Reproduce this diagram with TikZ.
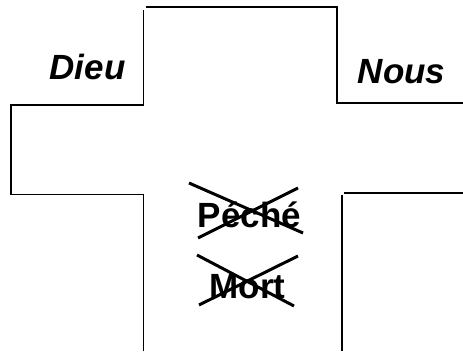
\documentclass[tikz,border=0pt]{standalone}
\usepackage{fontspec}
\setmainfont{Liberation Sans}
\begin{document}
\begin{tikzpicture}[x=1pt, y=-1pt, line width=1.3pt, every node/.style={inner sep=0pt, anchor=base, font=\fontsize{35}{42}\selectfont\bfseries}, strike/.style={line width=3pt}]
	\useasboundingbox (0,0) rectangle (463,351);
	% --- contour de la croix ---
	\draw (143.5,351) -- (143.5,194.5) -- (11,194.5) -- (11,105) -- (143.5,105) -- (143.5,10);
	\draw (146,7) -- (337,7) -- (337,103) -- (463,103);
	\draw (463,193) -- (344,193);
	\draw (342,194.5) -- (342,351);
	
	% --- textes ---
	\node (dieu) at (87.5,79) {\itshape Dieu};
	\node (nous) at (401.5,83) {\itshape Nous};
	\node (peche) at (249.5,227) {Péché};
	\node (mort) at (247.5,298) {Mort};
	
	% --- barres ---
	\draw[strike] (189,183) -- (303,233);
	\draw[strike] (198,238) -- (298,188);
	\draw[strike] (197,255) -- (294,306);
	\draw[strike] (199,305) -- (298,256);
\end{tikzpicture}
\end{document}
